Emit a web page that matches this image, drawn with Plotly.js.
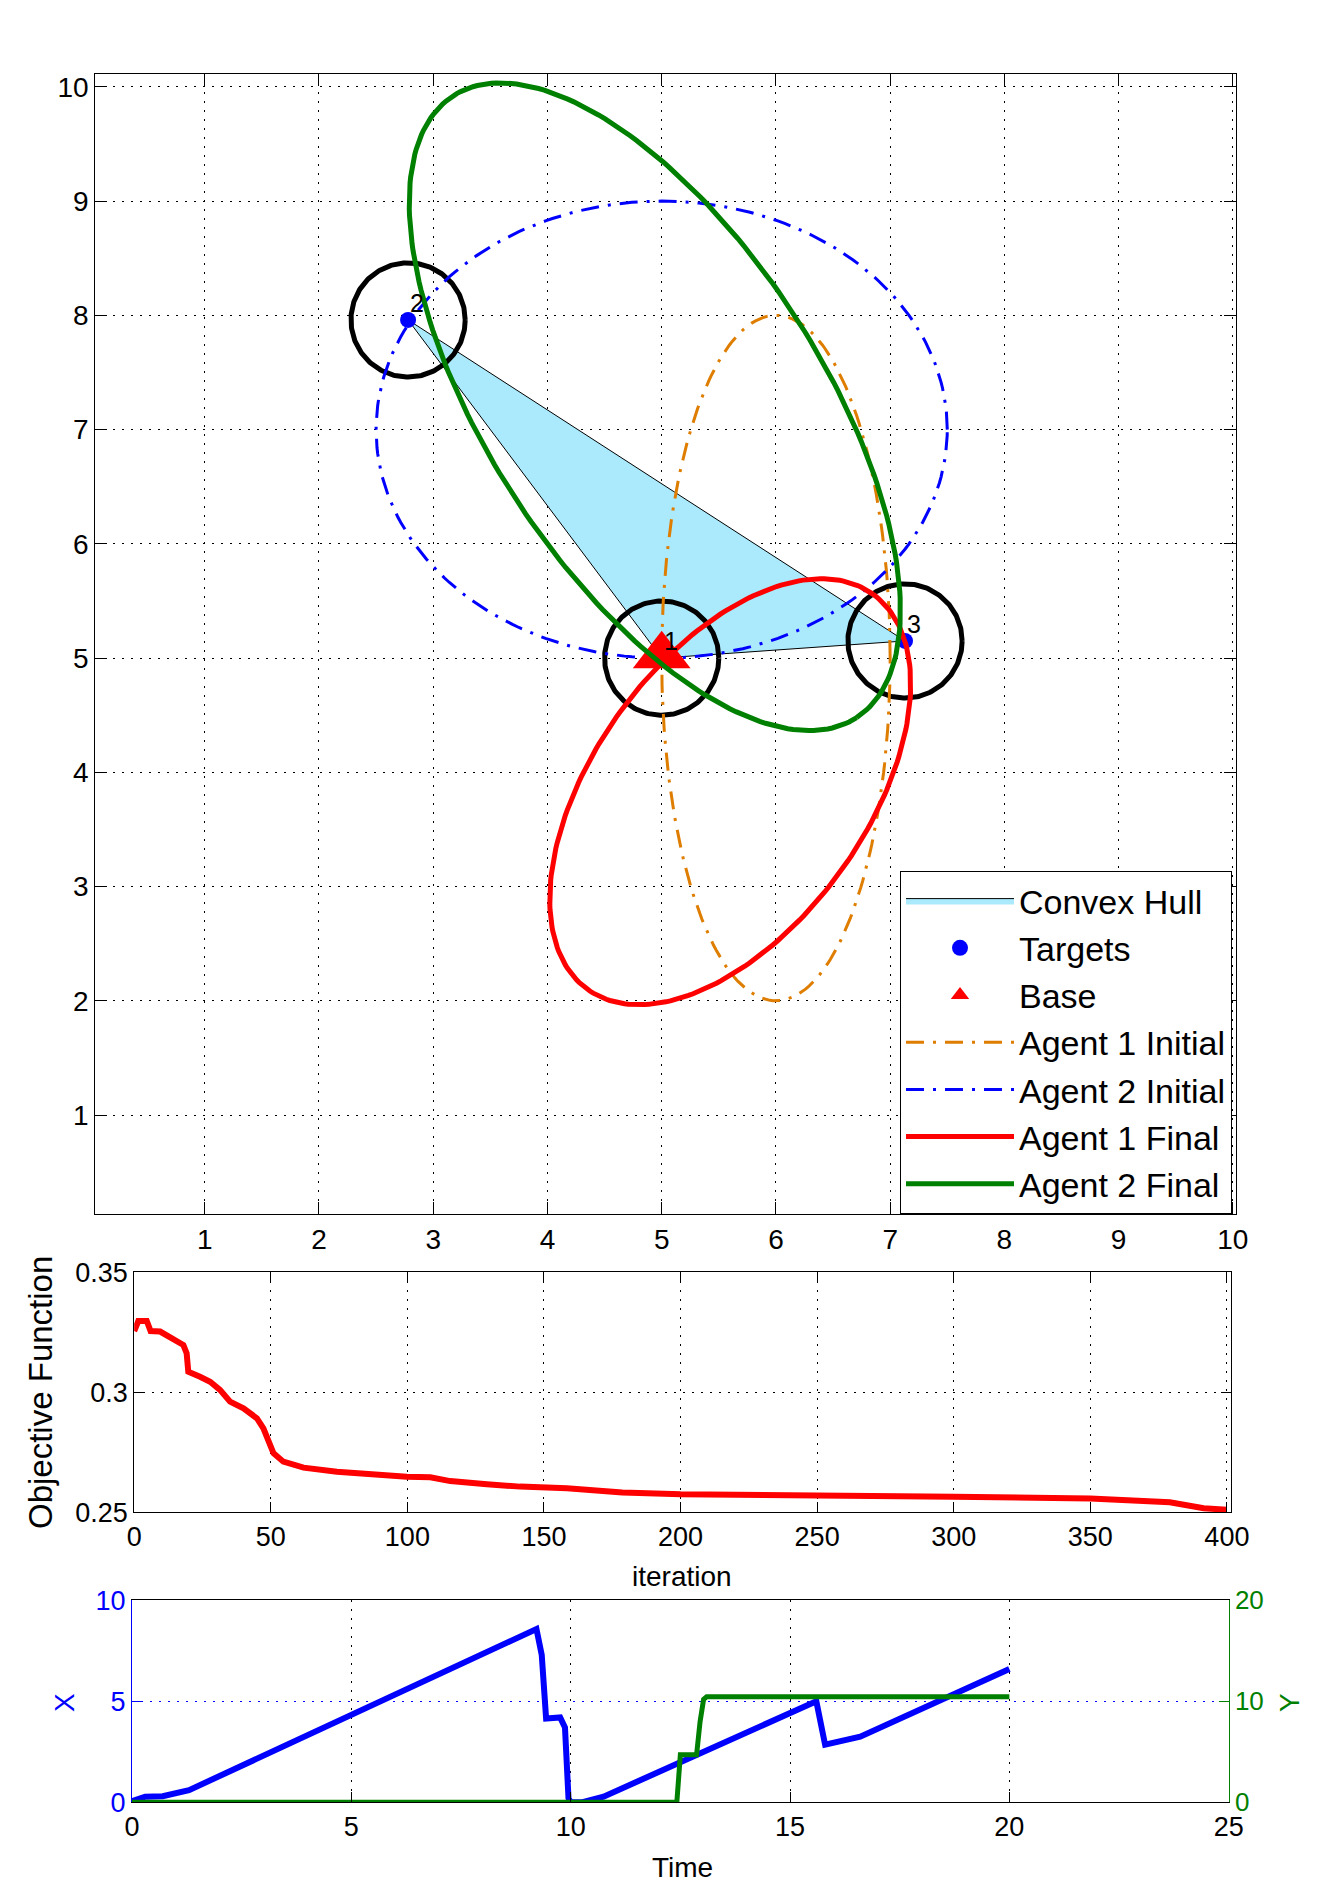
<!DOCTYPE html>
<html><head><meta charset="utf-8">
<script src="https://cdn.plot.ly/plotly-3.0.1.min.js"></script>
<style>html,body{margin:0;padding:0;background:#fff}#chart{width:1322px;height:1903px}</style>
</head><body><div id="chart"></div>
<script>
// ---------------- data: main map ----------------
const targetX = [5.0, 2.78, 7.13];
const targetY = [5.0, 7.96, 5.15];
const targetLabels = ['1', '2', '3'];
const targetRadius = [0.5, 0.5, 0.5];
const hullOrder = [1, 0, 2, 1];
const baseX = [5.0];
const baseY = [5.02];
// ellipses: Agent 1 Initial, Agent 2 Initial, Agent 1 Final, Agent 2 Final
const ellipseNames = ['Agent 1 Initial', 'Agent 2 Initial', 'Agent 1 Final', 'Agent 2 Final'];
const ellipseCx = [6.0, 5.0, 5.6, 4.94];
const ellipseCy = [5.0, 7.0, 3.83, 7.2];
const ellipseA = [1.0, 2.5, 2.134, 3.244];
const ellipseB = [3.0, 2.0, 1.191, 1.461];
const ellipseThetaDeg = [0, 0, 54.1, -57.0];
const ellipseColors = ['#DE7D00', '#0000FF', '#FF0000', '#008000'];

// ---------------- data: objective function ----------------
const iterVals = [0, 1.5, 4.6, 6, 9.5, 14.3, 18, 19.2, 19.8, 24.1, 27.8, 31.4, 35.1, 40, 44.9, 47.3, 49.1, 51, 54.6, 62, 74.2, 86.4, 99.8, 108.4, 115.7, 129.1, 141.3, 158.4, 178.7, 200, 225, 250, 300, 350, 363.7, 379.1, 391.5, 400];
const objVals = [0.3255, 0.3297, 0.3297, 0.3255, 0.3253, 0.3225, 0.3197, 0.3163, 0.3086, 0.3065, 0.3044, 0.3010, 0.2961, 0.2933, 0.2892, 0.2850, 0.2794, 0.2746, 0.2711, 0.2686, 0.2669, 0.2658, 0.2648, 0.2646, 0.2630, 0.2617, 0.2607, 0.2600, 0.2583, 0.2575, 0.2574, 0.2569, 0.2565, 0.2558, 0.2551, 0.2542, 0.2517, 0.2511];

// ---------------- data: time plot ----------------
const timeX = [0, 0.3, 0.7, 1.3, 9.22, 9.34, 9.44, 9.6, 9.76, 9.87, 9.95, 10.0, 10.25, 10.75, 15.6, 15.8, 16.6, 20.0];
const valX = [0.05, 0.28, 0.3, 0.6, 8.58, 7.3, 4.15, 4.15, 4.2, 3.7, 0.2, 0, 0, 0.28, 5.0, 2.85, 3.25, 6.6];
const timeY = [0, 12.42, 12.5, 12.87, 12.95, 13.03, 13.1, 20.0];
const valY = [0, 0, 4.7, 4.7, 8.0, 10.2, 10.45, 10.45];

// ---------------- helpers ----------------
function ellipse(cx, cy, a, b, thDeg) {
  const th = thDeg * Math.PI / 180, xs = [], ys = [];
  for (let i = 0; i <= 240; i++) {
    const t = 2 * Math.PI * i / 240;
    xs.push(cx + a * Math.cos(t) * Math.cos(th) - b * Math.sin(t) * Math.sin(th));
    ys.push(cy + a * Math.cos(t) * Math.sin(th) + b * Math.sin(t) * Math.cos(th));
  }
  return {x: xs, y: ys};
}
const W = 1322, H = 1903;
const px = v => v / W, py = v => 1 - v / H;
const FONT = '"Liberation Sans", Arial, Helvetica, sans-serif';

const traces = [];
// convex hull
traces.push({
  x: hullOrder.map(i => targetX[i]), y: hullOrder.map(i => targetY[i]),
  type: 'scatter', mode: 'lines', fill: 'toself', fillcolor: '#ABEAFC',
  line: {color: '#000', width: 1}, name: 'Convex Hull', legendrank: 1,
  xaxis: 'x', yaxis: 'y'
});
// target circles
for (let i = 0; i < targetX.length; i++) {
  const e = ellipse(targetX[i], targetY[i], targetRadius[i], targetRadius[i], 0);
  traces.push({x: e.x, y: e.y, type: 'scatter', mode: 'lines', line: {color: '#000', width: 5},
    showlegend: false, hoverinfo: 'skip', xaxis: 'x', yaxis: 'y'});
}
// initial ellipses
for (let k = 0; k < 2; k++) {
  const e = ellipse(ellipseCx[k], ellipseCy[k], ellipseA[k], ellipseB[k], ellipseThetaDeg[k]);
  traces.push({x: e.x, y: e.y, type: 'scatter', mode: 'lines', name: ellipseNames[k], legendrank: 4 + k,
    line: {color: ellipseColors[k], width: 3, dash: '18px,9px,3px,9px'}, xaxis: 'x', yaxis: 'y'});
}
// targets
traces.push({x: targetX, y: targetY, type: 'scatter', mode: 'markers', name: 'Targets', legendrank: 2,
  marker: {color: '#0000FF', size: 16, symbol: 'circle'}, xaxis: 'x', yaxis: 'y'});
// base
traces.push({x: baseX, y: baseY, type: 'scatter', mode: 'markers', name: 'Base', legendrank: 3,
  marker: {color: '#FF0000', size: 50, symbol: 'triangle-up'}, xaxis: 'x', yaxis: 'y'});
// final ellipses
for (let k = 2; k < 4; k++) {
  const e = ellipse(ellipseCx[k], ellipseCy[k], ellipseA[k], ellipseB[k], ellipseThetaDeg[k]);
  traces.push({x: e.x, y: e.y, type: 'scatter', mode: 'lines', name: ellipseNames[k], legendrank: 4 + k,
    line: {color: ellipseColors[k], width: 5}, xaxis: 'x', yaxis: 'y'});
}
// objective
traces.push({x: iterVals, y: objVals, type: 'scatter', mode: 'lines', line: {color: '#FF0000', width: 6},
  showlegend: false, xaxis: 'x2', yaxis: 'y2'});
// time plot
traces.push({x: timeX, y: valX, type: 'scatter', mode: 'lines', line: {color: '#0000FF', width: 6},
  showlegend: false, xaxis: 'x3', yaxis: 'y3'});
traces.push({x: timeY, y: valY, type: 'scatter', mode: 'lines', line: {color: '#008000', width: 5},
  showlegend: false, xaxis: 'x3', yaxis: 'y4'});

const gridDash = '2px,7px';
function axisBase(extra) {
  return Object.assign({
    showline: true, linecolor: '#000', linewidth: 1, mirror: 'ticks', ticks: 'inside',
    tickcolor: '#000', showgrid: true, gridcolor: '#000', gridwidth: 1, griddash: gridDash,
    zeroline: false, fixedrange: true, tickfont: {family: FONT, size: 27, color: '#000'}
  }, extra);
}

const annotations = [];
for (let i = 0; i < targetX.length; i++) {
  annotations.push({x: targetX[i], y: targetY[i] + 0.15, xref: 'x', yref: 'y', text: targetLabels[i],
    showarrow: false, xanchor: 'left', yanchor: 'middle', font: {family: FONT, size: 25, color: '#000'}});
}
annotations.push({x: px(40), y: py(1393), xref: 'paper', yref: 'paper', text: 'Objective Function', textangle: -90,
  showarrow: false, xanchor: 'center', yanchor: 'middle', font: {family: FONT, size: 33, color: '#000'}});
annotations.push({x: px(682), y: py(1576), xref: 'paper', yref: 'paper', text: 'iteration',
  showarrow: false, xanchor: 'center', yanchor: 'middle', font: {family: FONT, size: 28, color: '#000'}});
annotations.push({x: px(682), y: py(1867), xref: 'paper', yref: 'paper', text: 'Time',
  showarrow: false, xanchor: 'center', yanchor: 'middle', font: {family: FONT, size: 28, color: '#000'}});
annotations.push({x: px(64), y: py(1703), xref: 'paper', yref: 'paper', text: 'X', textangle: -90,
  showarrow: false, xanchor: 'center', yanchor: 'middle', font: {family: FONT, size: 28, color: '#0000FF'}});
annotations.push({x: px(1289), y: py(1703), xref: 'paper', yref: 'paper', text: 'Y', textangle: -90,
  showarrow: false, xanchor: 'center', yanchor: 'middle', font: {family: FONT, size: 28, color: '#008000'}});

const layout = {
  width: W, height: H, margin: {l: 0, r: 0, t: 0, b: 0},
  paper_bgcolor: '#fff', plot_bgcolor: '#fff', font: {family: FONT, color: '#000'},
  showlegend: true,
  legend: {x: px(1232), y: py(1214), xanchor: 'right', yanchor: 'bottom', bgcolor: '#fff',
    bordercolor: '#000', borderwidth: 1, font: {family: FONT, size: 34, color: '#000'},
    itemwidth: 108, traceorder: 'normal'},
  xaxis: axisBase({domain: [px(95.3), px(1236.3)], range: [0.042, 10.03], tickvals: [1,2,3,4,5,6,7,8,9,10], ticklen: 12, anchor: 'y', tickfont: {family: FONT, size: 28, color: '#000'}}),
  yaxis: axisBase({domain: [py(1214), py(74.3)], range: [0.134, 10.11], tickvals: [1,2,3,4,5,6,7,8,9,10], ticklen: 12, anchor: 'x', tickfont: {family: FONT, size: 28, color: '#000'}}),
  xaxis2: axisBase({domain: [px(134.2), px(1231)], range: [0, 401.5], tickvals: [0,50,100,150,200,250,300,350,400], ticklen: 10, anchor: 'y2'}),
  yaxis2: axisBase({domain: [py(1512.3), py(1272.3)], range: [0.25, 0.35], tickvals: [0.25, 0.3, 0.35], ticklen: 10, anchor: 'x2'}),
  xaxis3: axisBase({domain: [px(132), px(1228.7)], range: [0, 25], tickvals: [0,5,10,15,20,25], ticklen: 10, anchor: 'y3', mirror: true}),
  yaxis3: axisBase({domain: [py(1802.3), py(1600.3)], range: [0, 10], tickvals: [0,5,10], ticklen: 10, anchor: 'x3',
    mirror: false, linecolor: '#0000FF', tickcolor: '#0000FF', gridcolor: '#0000FF', tickfont: {family: FONT, size: 27, color: '#0000FF'}}),
  yaxis4: axisBase({overlaying: 'y3', side: 'right', anchor: 'x3', range: [0, 20], tickvals: [0,10,20], ticklen: 10,
    mirror: false, showgrid: false, linecolor: '#008000', tickcolor: '#008000', tickfont: {family: FONT, size: 26, color: '#008000'}}),
  annotations: annotations
};

Plotly.newPlot('chart', traces, layout, {displayModeBar: false, staticPlot: true});
</script>
</body></html>
